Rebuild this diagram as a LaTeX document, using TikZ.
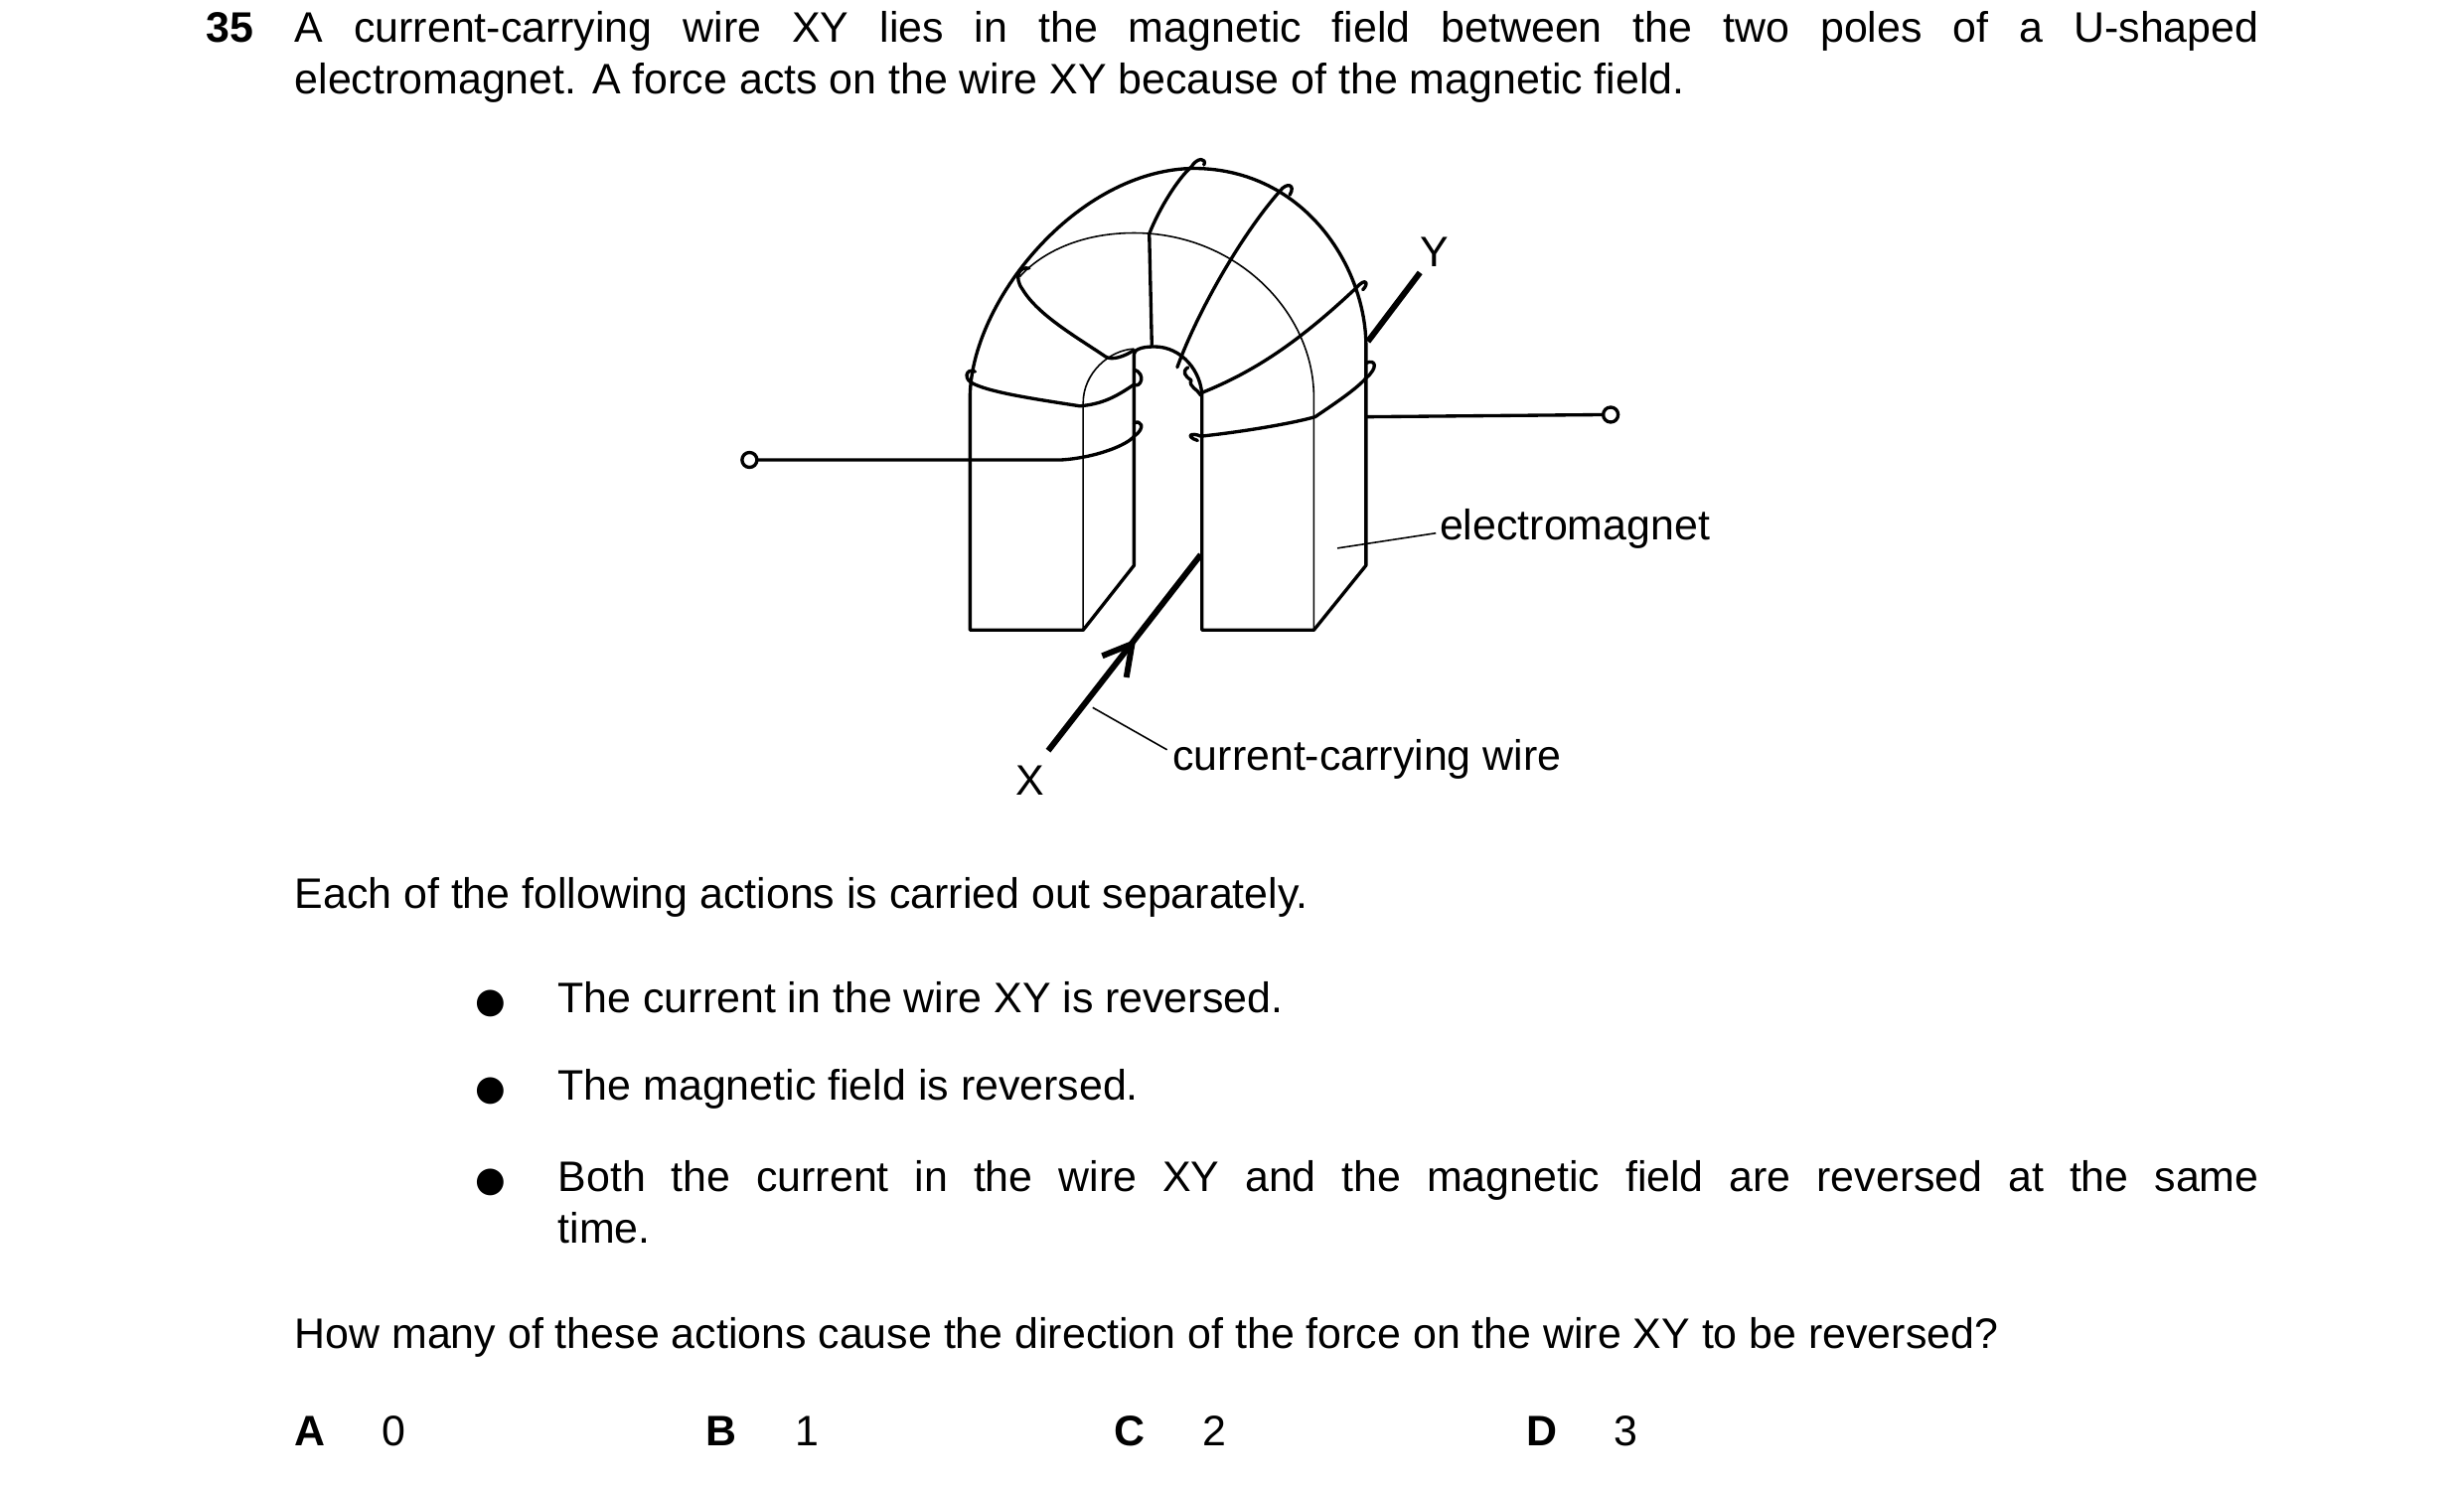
\documentclass[tikz,border=0pt]{standalone}
\usepackage{fontspec}
\setmainfont{Liberation Sans}
\newfontfamily\dejavu{DejaVu Sans}
\begin{document}
\begin{tikzpicture}[x=0.01cm,y=-0.01cm,
  txt/.style={anchor=base west,inner sep=0pt,font=\fontsize{12.2}{15}\selectfont},
  thk/.style={line width=0.95pt,line join=round,line cap=round},
  thn/.style={line width=0.45pt},
  wire/.style={line width=1.7pt}]
\useasboundingbox (0,0) rectangle (2480,1497);
% text
\node[txt,font=\fontsize{12.2}{15}\selectfont\bfseries] (n35) at (207,43) {35};
\node[txt] (l1) at (296,43) {\makebox[1977\dimexpr0.01cm][s]{A current-carrying wire XY lies in the magnetic field between the two poles of a U-shaped}};
\node[txt] (l2) at (296,95) {electromagnet. A force acts on the wire XY because of the magnetic field.};
\node[txt] (l3) at (296,914) {Each of the following actions is carried out separately.};
\foreach \yy/\nm in {1019/b1,1107/b2,1199/b3}
  \node[txt,font=\dejavu\fontsize{10}{12}\selectfont] (\nm) at (478,\yy) {●};
\node[txt] (t1) at (561,1019) {The current in the wire XY is reversed.};
\node[txt] (t2) at (561,1107) {The magnetic field is reversed.};
\node[txt] (t3) at (561,1199) {\makebox[1712\dimexpr0.01cm][s]{Both the current in the wire XY and the magnetic field are reversed at the same}};
\node[txt] (t4) at (561,1251) {time.};
\node[txt] (q) at (296,1357) {How many of these actions cause the direction of the force on the wire XY to be reversed?};
\node[txt,font=\fontsize{12.2}{15}\selectfont\bfseries] (oA) at (296,1455) {A};
\node[txt] (vA) at (384,1455) {0};
\node[txt,font=\fontsize{12.2}{15}\selectfont\bfseries] (oB) at (710,1455) {B};
\node[txt] (vB) at (800,1455) {1};
\node[txt,font=\fontsize{12.2}{15}\selectfont\bfseries] (oC) at (1121,1455) {C};
\node[txt] (vC) at (1210,1455) {2};
\node[txt,font=\fontsize{12.2}{15}\selectfont\bfseries] (oD) at (1536,1455) {D};
\node[txt] (vD) at (1624,1455) {3};
% diagram
\begin{scope}[shift={(700,140)},x=0.00639cm,y=-0.00433cm]
\node[txt] (em) at (1170,930) {electromagnet};
\node[txt] (cw) at (750,1465) {current-carrying wire};
\node[inner sep=0pt,font=\fontsize{12.2}{15}\selectfont] (X) at (527,1490) {X};
\node[inner sep=0pt,font=\fontsize{12.2}{15}\selectfont] (Y) at (1163,262) {Y};
\coordinate (emA) at (1010,950); \coordinate (emB) at (1165,915);
\coordinate (cwA) at (625,1320); \coordinate (cwB) at (742,1418);
\draw[thn] (emA) -- (emB);
\draw[thn] (cwA) -- (cwB);
% body
\draw[thk] (432,1140) -- (432,600) .. controls (432,380) and (600,70) .. (785,68)
  .. controls (960,70) and (1055,300) .. (1055,480) -- (1055,990) -- (973,1140) -- (797,1140)
  -- (797,600) .. controls (797,540) and (765,482) .. (722,482) .. controls (700,482) and (690,490) .. (690,500)
  -- (690,990) -- (610,1140) -- cycle;
\draw[thn] (610,1140) -- (610,612) .. controls (610,545) and (650,490) .. (690,487);
\draw[thn] (973,1140) -- (973,600) .. controls (973,400) and (850,218) .. (690,218)
  .. controls (600,218) and (540,270) .. (510,320);
% windings
\draw[thk] (690,535) .. controls (710,545) and (700,580) .. (690,570) .. controls (660,600) and (640,615) .. (605,620)
  .. controls (540,605) and (470,590) .. (440,570) .. controls (420,560) and (425,530) .. (440,540);
\draw[thk] (690,490) .. controls (675,505) and (655,515) .. (645,505) .. controls (600,460) and (540,410) .. (515,350)
  .. controls (500,320) and (510,295) .. (525,300);
\draw[thk] (718,478) -- (714,220) .. controls (730,160) and (760,90) .. (780,65) .. controls (790,40) and (805,45) .. (800,60);
\draw[thk] (758,530) .. controls (790,400) and (860,220) .. (920,120) .. controls (930,100) and (945,105) .. (935,130);
\draw[thk] (795,595) .. controls (790,580) and (775,575) .. (780,560) .. controls (770,550) and (765,540) .. (775,530);
\draw[thk] (795,590) .. controls (880,540) and (950,470) .. (1040,345) .. controls (1055,320) and (1060,335) .. (1050,350);
\draw[thk] (790,700) .. controls (770,690) and (780,680) .. (795,690) .. controls (860,680) and (940,660) .. (975,645)
  .. controls (1010,610) and (1040,580) .. (1055,555) .. controls (1075,530) and (1070,510) .. (1055,520);
% leads
\coordinate (lc) at (85,745); \coordinate (rc) at (1440,640);
\draw[thk] (lc) circle[radius=0.075cm];
\draw[thk] (rc) circle[radius=0.075cm];
\draw[thk] ([xshift=0.075cm]lc) -- (575,745) .. controls (630,740) and (680,710) .. (690,690)
  .. controls (710,670) and (700,650) .. (690,660);
\draw[thk] (1055,645) -- ([xshift=-0.075cm]rc);
% wire XY
\draw[wire] (555,1420) -- (795,965);
\draw[wire] (640,1200) -- (687,1172) -- (678,1250);
\draw[wire] (1058,470) -- (1140,310);
\end{scope}
\end{tikzpicture}
\end{document}
